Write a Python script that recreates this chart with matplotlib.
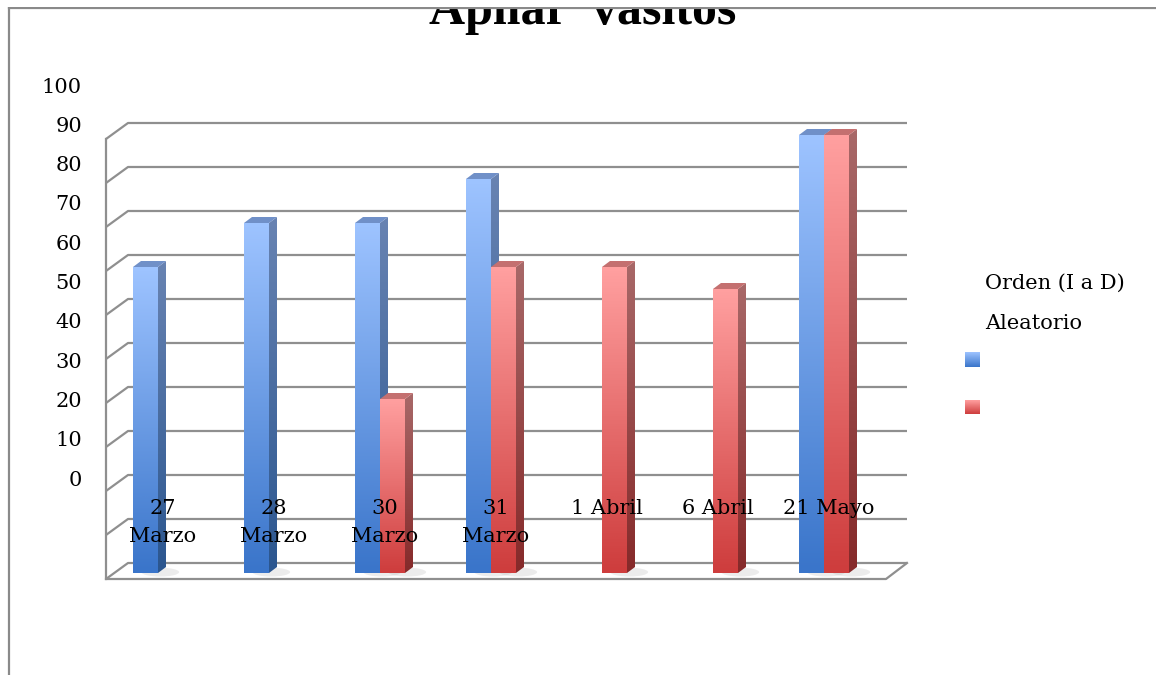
import numpy as np
import matplotlib.pyplot as plt
from matplotlib.patches import Polygon, Rectangle, Ellipse
from matplotlib.colors import LinearSegmentedColormap

# datos
categorias = ['27\nMarzo', '28\nMarzo', '30\nMarzo', '31\nMarzo', '1 Abril', '6 Abril', '21 Mayo']
orden = [50, 60, 60, 70, np.nan, np.nan, 80]
aleatorio = [np.nan, np.nan, 20, 50, 50, 45, 80]
series = ['Orden (I a D)', 'Aleatorio']
ticks_y = list(range(0, 101, 10))
rejilla = list(range(-20, 81, 10))
titulo = 'Apilar  vasitos'

W, H = 1156, 675
fuente = 'DejaVu Serif'
tam = 15

# pixel -> datos (solo para el marco del grafico)
def px2x(p):
  return (p - 158) / 111.0

def px2y(p):
  return (487 - p) / 4.4

def degradado(ax, patch, c_top, c_bot, extent, z):
  cmap = LinearSegmentedColormap.from_list('g', [c_bot, c_top])
  im = ax.imshow(np.linspace(0, 1, 64).reshape(-1, 1), cmap=cmap, extent=extent,
                 origin='lower', aspect='auto', zorder=z, interpolation='bilinear')
  im.set_clip_path(patch)

fig = plt.figure(figsize=(W / 100, H / 100), dpi=100)
ax = fig.add_axes([8.5 / W, 0, 1 - 8.5 / W, (H - 7.5) / H])
ax.set_xticks([])
ax.set_yticks([])
for s in ['right', 'bottom']:
  ax.spines[s].set_visible(False)
for s in ['left', 'top']:
  ax.spines[s].set_color('#8a8a8a')
  ax.spines[s].set_linewidth(1.6)
  ax.spines[s].set_zorder(200)

# paredes y rejilla
gris = '#8f8f8f'
x_frente, x_fondo, x_der = px2x(106), px2x(128), px2x(907)
off_back = 12 / 4.4
off_front = off_back - 16 / 4.4
for g in rejilla:
  ax.plot([x_frente, x_fondo, x_der], [g + off_front, g + off_back, g + off_back],
          color=gris, lw=1.6, zorder=1, solid_capstyle='butt')
ax.plot([x_frente, x_frente], [rejilla[0] + off_front, rejilla[-1] + off_front], color=gris, lw=1.6, zorder=1)
ax.plot([x_frente, px2x(886), x_der], [rejilla[0] + off_front, rejilla[0] + off_front, rejilla[0] + off_back],
        color=gris, lw=1.6, zorder=1)

# barras 3D
piso = px2y(573)
w = 25 / 111.0
ddx = 8 / 111.0
ddy = 6 / 4.4
x = np.arange(len(categorias))
estilos = [
  dict(front=('#9DC3FF', '#3A75CA'), side=('#6883B2', '#2B568F'), top='#7090C8'),
  dict(front=('#FF9F9F', '#CE3D3D'), side=('#A86868', '#862A2A'), top='#C47070'),
]
z = 3.0
for i in x:
  for k, vals in enumerate([orden, aleatorio]):
    v = vals[i]
    if np.isnan(v):
      continue
    x0 = i - w + k * w
    x1 = x0 + w
    est = estilos[k]
    sombra = Ellipse((x1 + 0.02, piso + 0.2), 0.34, 2.0, color='#9a9a9a', alpha=0.18, lw=0, zorder=2)
    ax.add_patch(sombra)
    rect = ax.bar(x0, v - piso, bottom=piso, width=w, align='edge', color='none', lw=0, zorder=z)[0]
    degradado(ax, rect, est['front'][0], est['front'][1], [x0, x1, piso, v], z)
    lado = Polygon([(x1, piso), (x1 + ddx, piso + ddy), (x1 + ddx, v + ddy), (x1, v)],
                   closed=True, facecolor='none', lw=0, zorder=z)
    ax.add_patch(lado)
    degradado(ax, lado, est['side'][0], est['side'][1], [x1, x1 + ddx, piso, v + ddy], z)
    tapa = Polygon([(x0, v), (x0 + ddx, v + ddy), (x1 + ddx, v + ddy), (x1, v)],
                   closed=True, facecolor=est['top'], lw=0, zorder=z + 0.01)
    ax.add_patch(tapa)
    z += 0.1

# etiquetas de categorias
for i, c in enumerate(categorias):
  ax.text(i + 0.045, px2y(499), c, ha='center', va='top', fontsize=tam,
          family=fuente, linespacing=1.6, zorder=10)

# titulo (recortado por el borde superior, como en el original)
t = ax.text(px2x(583), px2y(24), titulo, ha='center', va='baseline', fontsize=36,
            family='Liberation Serif', weight='bold', zorder=10, clip_on=True)
t.set_clip_box(ax.bbox)
fig.add_artist(Rectangle((0, 1 - 6.8 / H), 1, 6.8 / H, transform=fig.transFigure,
                         facecolor='white', lw=0, zorder=100))

# leyenda
fig.text(985 / W, 1 - 283 / H, series[0], ha='left', va='center', fontsize=tam, family=fuente)
fig.text(985 / W, 1 - 323 / H, series[1], ha='left', va='center', fontsize=tam, family=fuente)
for k, (yt, yb) in enumerate([(352, 367), (400, 414)]):
  cuad = Rectangle((px2x(965), px2y(yb)), px2x(980) - px2x(965), px2y(yt) - px2y(yb),
                   facecolor='none', lw=0)
  ax.add_patch(cuad)
  degradado(ax, cuad, estilos[k]['front'][0], estilos[k]['front'][1],
            [px2x(965), px2x(980), px2y(yb), px2y(yt)], 5)

ax.set_xlim(px2x(8.5), px2x(W))
ax.set_ylim(px2y(H), px2y(7.5))

# eje de valores (desplazado como en el original)
ax2 = fig.add_axes([82 / W, 0, 0.001, (H - 7.5) / H])
ax2.set_ylim((478 - H) / 3.93, (478 - 7.5) / 3.93)
ax2.set_yticks(ticks_y)
ax2.set_yticklabels([str(t) for t in ticks_y], family=fuente, fontsize=tam)
ax2.tick_params(axis='y', length=0, pad=0)
ax2.set_xticks([])
ax2.patch.set_visible(False)
for s in ax2.spines.values():
  s.set_visible(False)

fig.savefig('out.png', dpi=100)
